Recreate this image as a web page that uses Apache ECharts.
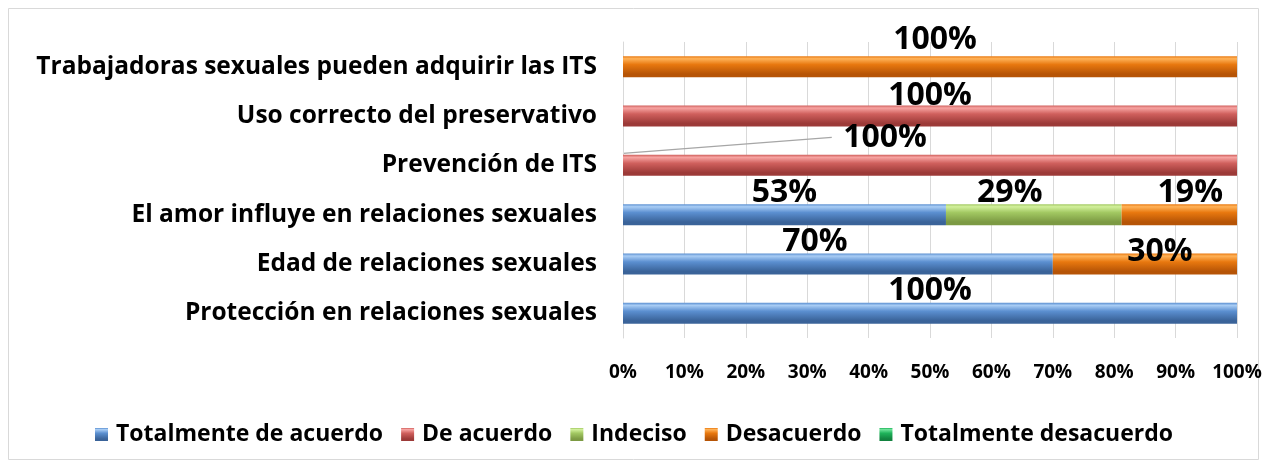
<!DOCTYPE html>
<html>
<head>
<meta charset="utf-8">
<script src="https://cdn.jsdelivr.net/npm/echarts@6/dist/echarts.min.js"></script>
<style>
  html, body { margin: 0; padding: 0; background: #fff; }
  #main { width: 1268px; height: 469px; }
</style>
</head>
<body>
<div id="main"></div>
<script>
// categories, bottom to top
const categories = [
  'Protección en relaciones sexuales',
  'Edad de relaciones sexuales',
  'El amor influye en relaciones sexuales',
  'Prevención de ITS',
  'Uso correcto del preservativo',
  'Trabajadoras sexuales pueden adquirir las ITS'
];
const totalmenteDeAcuerdo = [100, 70, 52.6, 0, 0, 0];
const deAcuerdo = [0, 0, 0, 100, 100, 0];
const indeciso = [0, 0, 28.6, 0, 0, 0];
const desacuerdo = [0, 30, 18.8, 0, 0, 100];
const totalmenteDesacuerdo = [0, 0, 0, 0, 0, 0];
const tickLabels = ['0%', '10%', '20%', '30%', '40%', '50%', '60%', '70%', '80%', '90%', '100%'];

const FONT = '"Open Sans"';

// bevel-like gradient for the Excel look
function bevel(light, mid, dark) {
  return new echarts.graphic.LinearGradient(0, 0, 0, 1, [
    { offset: 0, color: mid },
    { offset: 0.12, color: light },
    { offset: 0.4, color: mid },
    { offset: 0.85, color: dark },
    { offset: 1, color: dark }
  ]);
}

// label nudges (dx, dy) per series / category index, like the moved labels in the original
const nudges = {
  'Totalmente de acuerdo': { 0: [0, -22], 1: [-23, -22], 2: [0, -22] },
  'De acuerdo': { 3: [-45, -27], 4: [0, -20] },
  'Indeciso': { 2: [-24, -22] },
  'Desacuerdo': { 1: [15, -12], 2: [11, -22], 5: [5, -27] }
};

function mkSeries(name, values, light, mid, dark) {
  const nd = nudges[name] || {};
  return {
    name: name,
    type: 'bar',
    stack: 'total',
    barWidth: 21,
    data: values.map((v, i) => ({
      value: v,
      label: nd[i] ? { offset: nd[i] } : undefined
    })),
    itemStyle: { color: bevel(light, mid, dark) },
    label: {
      show: true,
      position: 'inside',
      formatter: p => p.value > 0 ? Math.round(p.value) + '%' : '',
      color: '#000',
      fontFamily: FONT,
      fontWeight: 'bold',
      fontSize: 32,
      letterSpacing: -1.5
    }
  };
}

const chart = echarts.init(document.getElementById('main'));

const option = {
  backgroundColor: '#fff',
  animation: false,
  color: ['#4f81bd', '#c0504d', '#9bbb59', '#e46c0a', '#1fb35a'],
  grid: { left: 623, right: 31, top: 42, bottom: 131, containLabel: false },
  legend: {
    bottom: 18,
    left: 'center',
    itemWidth: 13,
    itemHeight: 13,
    itemGap: 18,
    icon: 'rect',
    textStyle: { fontFamily: FONT, fontWeight: 'bold', fontSize: 23, color: '#000', padding: [0, 0, 0, 3] },
    data: ['Totalmente de acuerdo', 'De acuerdo', 'Indeciso', 'Desacuerdo', 'Totalmente desacuerdo']
  },
  xAxis: {
    type: 'value',
    min: 0,
    max: 100,
    interval: 10,
    axisLine: { show: false },
    axisTick: { show: false },
    splitLine: { show: true, lineStyle: { color: '#d9d9d9', width: 1 } },
    axisLabel: {
      margin: 25,
      color: '#000',
      fontFamily: FONT,
      fontWeight: 'bold',
      fontSize: 19,
      formatter: v => tickLabels[Math.round(v / 10)]
    }
  },
  yAxis: {
    type: 'category',
    data: categories,
    axisLine: { show: true, lineStyle: { color: '#d9d9d9' } },
    axisTick: { show: false },
    axisLabel: {
      margin: 26,
      color: '#000',
      fontFamily: FONT,
      fontWeight: 'bold',
      fontSize: 24.5
    }
  },
  series: [
    mkSeries('Totalmente de acuerdo', totalmenteDeAcuerdo, '#a9cdf5', '#5b8fd0', '#3a6399'),
    mkSeries('De acuerdo', deAcuerdo, '#f7a4a2', '#d0605d', '#9c3a38'),
    mkSeries('Indeciso', indeciso, '#d2f09c', '#a2c862', '#7c9a43'),
    mkSeries('Desacuerdo', desacuerdo, '#ffb258', '#e8780f', '#b65406'),
    mkSeries('Totalmente desacuerdo', totalmenteDesacuerdo, '#6fe39a', '#1fb35a', '#12823f')
  ]
};

chart.setOption(option);

// outer chart frame + leader line for the moved "Prevención de ITS" label
const base = chart.convertToPixel({ gridIndex: 0 }, [0, 3]);
const lblPt = chart.convertToPixel({ gridIndex: 0 }, [34, 3]);
chart.setOption({
  graphic: [
    {
      type: 'rect',
      shape: { x: 8.5, y: 8.5, width: 1250, height: 451 },
      style: { fill: null, stroke: '#d9d9d9', lineWidth: 1 },
      silent: true
    },
    {
      type: 'line',
      shape: { x1: base[0], y1: base[1] - 12, x2: lblPt[0], y2: base[1] - 28 },
      style: { stroke: '#a6a6a6', lineWidth: 1.2 },
      silent: true
    }
  ]
});
</script>
</body>
</html>
